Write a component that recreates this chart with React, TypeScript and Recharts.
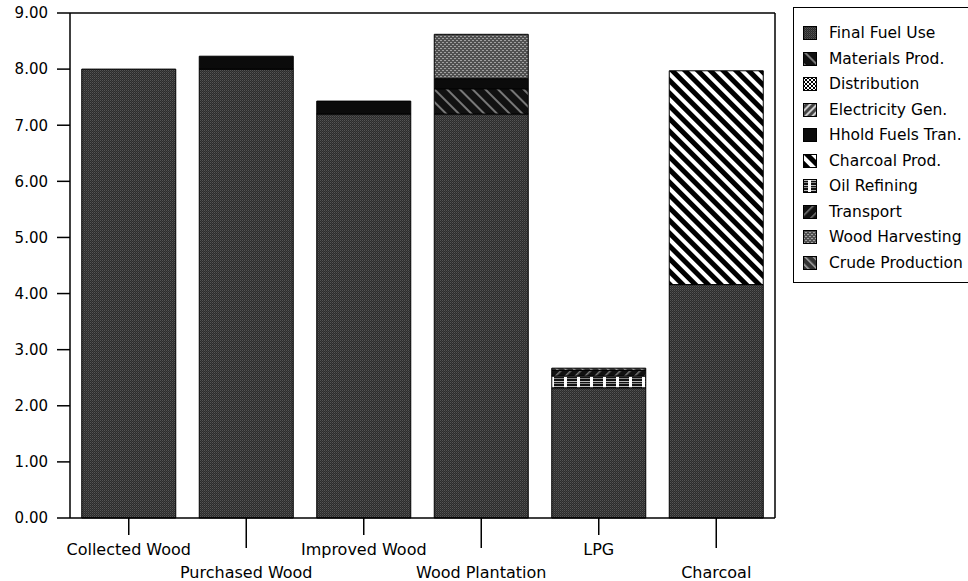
import React from 'react';
import { BarChart, Bar, XAxis, YAxis } from 'recharts';

const categories = ['Collected Wood', 'Purchased Wood', 'Improved Wood', 'Wood Plantation', 'LPG', 'Charcoal'];

const finalFuelUse = [8.0, 8.0, 7.2, 7.2, 2.32, 4.16];
const materialsProd = [0, 0, 0, 0.45, 0, 0];
const distribution = [0, 0, 0, 0, 0, 0];
const electricityGen = [0, 0, 0, 0, 0, 0];
const hholdFuelsTran = [0, 0.23, 0.23, 0.18, 0, 0];
const charcoalProd = [0, 0, 0, 0, 0, 3.81];
const oilRefining = [0, 0, 0, 0, 0.21, 0];
const transport = [0, 0, 0, 0, 0.1, 0];
const woodHarvesting = [0, 0, 0, 0.79, 0, 0];
const crudeProduction = [0, 0, 0, 0, 0.04, 0];

const yTicks = [0, 1, 2, 3, 4, 5, 6, 7, 8, 9];

const series = [
  { key: 'finalFuelUse', name: 'Final Fuel Use', values: finalFuelUse, fill: 'url(#pFinal)' },
  { key: 'materialsProd', name: 'Materials Prod.', values: materialsProd, fill: 'url(#pMaterials)' },
  { key: 'distribution', name: 'Distribution', values: distribution, fill: 'url(#pDistribution)' },
  { key: 'electricityGen', name: 'Electricity Gen.', values: electricityGen, fill: 'url(#pElectricity)' },
  { key: 'hholdFuelsTran', name: 'Hhold Fuels Tran.', values: hholdFuelsTran, fill: '#0b0b0b' },
  { key: 'charcoalProd', name: 'Charcoal Prod.', values: charcoalProd, fill: 'url(#pCharcoal)' },
  { key: 'oilRefining', name: 'Oil Refining', values: oilRefining, fill: 'url(#pOil)' },
  { key: 'transport', name: 'Transport', values: transport, fill: 'url(#pTransport)' },
  { key: 'woodHarvesting', name: 'Wood Harvesting', values: woodHarvesting, fill: 'url(#pHarvest)' },
  { key: 'crudeProduction', name: 'Crude Production', values: crudeProduction, fill: 'url(#pCrude)' },
];

const data = categories.map((name, i) => {
  const row: any = { name };
  series.forEach((s) => {
    row[s.key] = s.values[i];
  });
  return row;
});

const FONT = '"DejaVu Sans", sans-serif';

// alternating two-row category labels with long/short tick marks
const CategoryTick = (props: any) => {
  const { x, y, payload, index } = props;
  const low = index % 2 === 1;
  return (
    <g>
      <line x1={x} y1={y} x2={x} y2={y + (low ? 30 : 17)} stroke="#000" strokeWidth={1.5} />
      <text
        x={x}
        y={y + (low ? 54 : 31)}
        textAnchor="middle"
        dominantBaseline="central"
        fontSize={16}
        fontFamily={FONT}
        fill="#000"
      >
        {payload.value}
      </text>
    </g>
  );
};

const Patterns = () => (
  <svg width={0} height={0} style={{ position: 'absolute' }}>
    <defs>
      <pattern id="pFinal" width="2" height="2" patternUnits="userSpaceOnUse">
        <rect width="2" height="2" fill="#2c2c2c" />
        <rect width="1" height="1" fill="#555" />
        <rect x="1" y="1" width="1" height="1" fill="#404040" />
      </pattern>
      <pattern id="pMaterials" width="9" height="9" patternUnits="userSpaceOnUse" patternTransform="rotate(-45)">
        <rect width="9" height="9" fill="#111" />
        <rect width="2" height="9" fill="#777" />
      </pattern>
      <pattern id="pDistribution" width="4" height="4" patternUnits="userSpaceOnUse">
        <rect width="4" height="4" fill="#fff" />
        <rect width="2" height="2" fill="#000" />
        <rect x="2" y="2" width="2" height="2" fill="#000" />
      </pattern>
      <pattern id="pElectricity" width="5" height="5" patternUnits="userSpaceOnUse" patternTransform="rotate(45)">
        <rect width="5" height="5" fill="#444" />
        <rect width="2" height="5" fill="#ccc" />
      </pattern>
      <pattern id="pCharcoal" width="9" height="9" patternUnits="userSpaceOnUse" patternTransform="rotate(-45)">
        <rect width="9" height="9" fill="#fff" />
        <rect width="5" height="9" fill="#000" />
      </pattern>
      <pattern id="pOil" width="13" height="5" patternUnits="userSpaceOnUse">
        <rect width="13" height="5" fill="#111" />
        <rect y="1" width="13" height="1" fill="#bbb" />
        <rect y="3" width="13" height="1" fill="#888" />
        <rect x="5" width="3" height="5" fill="#fff" />
      </pattern>
      <pattern id="pTransport" width="7" height="7" patternUnits="userSpaceOnUse" patternTransform="rotate(45)">
        <rect width="7" height="7" fill="#111" />
        <rect width="1.5" height="7" fill="#777" />
      </pattern>
      <pattern id="pHarvest" width="4" height="4" patternUnits="userSpaceOnUse">
        <rect width="4" height="4" fill="#505050" />
        <rect width="2" height="1" fill="#a0a0a0" />
        <rect x="2" y="2" width="2" height="1" fill="#a0a0a0" />
      </pattern>
      <pattern id="pCrude" width="6" height="6" patternUnits="userSpaceOnUse" patternTransform="rotate(-45)">
        <rect width="6" height="6" fill="#333" />
        <rect width="1.5" height="6" fill="#aaa" />
      </pattern>
    </defs>
  </svg>
);

const LegendBox = () => (
  <div
    style={{
      position: 'absolute',
      left: 793,
      top: 7,
      width: 190,
      height: 276,
      border: '1.5px solid #000',
      boxSizing: 'border-box',
      fontFamily: FONT,
      fontSize: 15.5,
      color: '#000',
    }}
  >
    {series.map((s, i) => (
      <div
        key={s.key}
        style={{ position: 'absolute', left: 9, top: 17 + i * 25.5, height: 16, display: 'flex', alignItems: 'center' }}
      >
        <svg width={14} height={14} style={{ display: 'block' }}>
          <rect x={0.5} y={0.5} width={13} height={13} fill={s.fill} stroke="#000" />
        </svg>
        <span style={{ marginLeft: 12, whiteSpace: 'nowrap', lineHeight: '16px' }}>{s.name}</span>
      </div>
    ))}
  </div>
);

export default function App() {
  return (
    <div style={{ position: 'absolute', left: 0, top: 0, width: 968, height: 581, overflow: 'hidden', background: '#fff' }}>
      <Patterns />
      <BarChart
        width={968}
        height={581}
        data={data}
        margin={{ top: 12, right: 192, left: 8, bottom: 0 }}
        barCategoryGap="10%"
      >
        <XAxis
          xAxisId="main"
          dataKey="name"
          height={63}
          interval={0}
          tickSize={0}
          tickMargin={0}
          tickLine={false}
          axisLine={{ stroke: '#000', strokeWidth: 1.5 }}
          tick={<CategoryTick />}
        />
        <XAxis
          xAxisId="top"
          dataKey="name"
          orientation="top"
          height={1}
          tick={false}
          tickLine={false}
          axisLine={{ stroke: '#000', strokeWidth: 1.5 }}
        />
        <YAxis
          yAxisId="main"
          width={62}
          domain={[0, 9]}
          ticks={yTicks}
          interval={0}
          tickFormatter={(v: number) => v.toFixed(2)}
          tickSize={13}
          tickMargin={9}
          tickLine={{ stroke: '#000', strokeWidth: 1.5 }}
          axisLine={{ stroke: '#000', strokeWidth: 1.5 }}
          tick={{ fill: '#000', fontSize: 15, fontFamily: FONT }}
        />
        <YAxis yAxisId="right" orientation="right" width={1} domain={[0, 9]} tick={false} tickLine={false} axisLine={{ stroke: '#000', strokeWidth: 1.5 }} />
        {series.map((s) => (
          <Bar
            key={s.key}
            xAxisId="main"
            yAxisId="main"
            dataKey={s.key}
            name={s.name}
            stackId="a"
            fill={s.fill}
            stroke="#000"
            strokeWidth={1}
            isAnimationActive={false}
          />
        ))}
      </BarChart>
      <LegendBox />
    </div>
  );
}
